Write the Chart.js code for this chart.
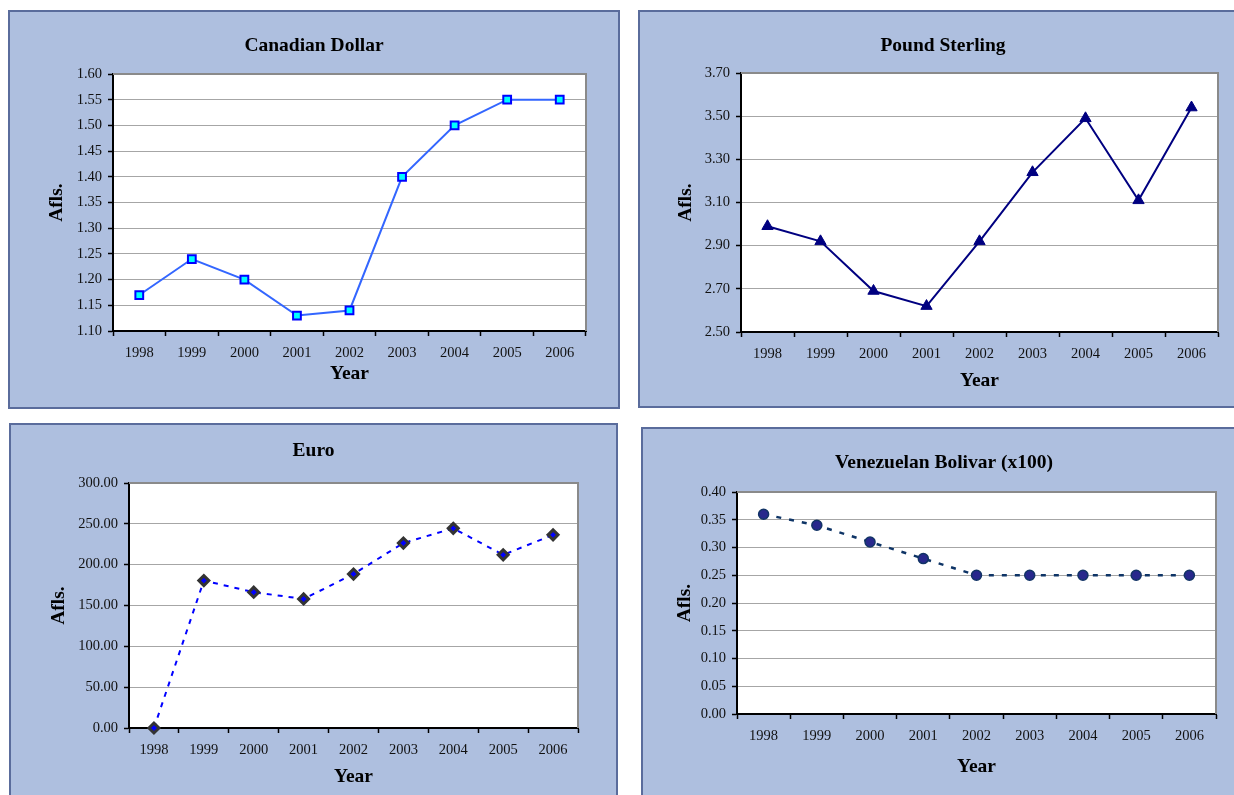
<!DOCTYPE html>
<html>
<head>
<meta charset="utf-8">
<script src="https://cdn.jsdelivr.net/npm/chart.js@4.4.1/dist/chart.umd.min.js"></script>
<style>
  html, body { margin: 0; padding: 0; background: #ffffff; width: 1234px; height: 795px; overflow: hidden; }
  .panel { position: absolute; background: #AEBFDF; border: 2px solid #5A6C9C; box-sizing: border-box; }
  .panel canvas { position: absolute; left: -2px; top: -2px; }
</style>
</head>
<body>
<div class="panel" id="p1" style="left:8px;top:10px;width:612px;height:399px;"><canvas id="c1" width="612" height="399"></canvas></div>
<div class="panel" id="p2" style="left:638px;top:10px;width:610px;height:398px;"><canvas id="c2" width="610" height="398"></canvas></div>
<div class="panel" id="p3" style="left:9px;top:423px;width:609px;height:400px;"><canvas id="c3" width="609" height="400"></canvas></div>
<div class="panel" id="p4" style="left:641px;top:427px;width:606px;height:400px;"><canvas id="c4" width="606" height="400"></canvas></div>
<script>
// ---- data ----
const years = ['1998', '1999', '2000', '2001', '2002', '2003', '2004', '2005', '2006'];
const canadianDollar = [1.17, 1.24, 1.20, 1.13, 1.14, 1.40, 1.50, 1.55, 1.55];
const poundSterling = [2.99, 2.92, 2.69, 2.62, 2.92, 3.24, 3.49, 3.11, 3.54];
const euro = [0, 180.5, 166.3, 158, 188.5, 226.5, 244.5, 212, 236.5];
const venezuelanBolivar = [0.36, 0.34, 0.31, 0.28, 0.25, 0.25, 0.25, 0.25, 0.25];
const titles = ['Canadian Dollar', 'Pound Sterling', 'Euro', 'Venezuelan Bolivar (x100)'];
const yAxisTitle = 'Afls.';
const xAxisTitle = 'Year';
const canadianTicks = { min: 1.10, max: 1.60, step: 0.05 };
const poundTicks = { min: 2.50, max: 3.70, step: 0.20 };
const euroTicks = { min: 0, max: 300, step: 50 };
const bolivarTicks = { min: 0, max: 0.40, step: 0.05 };

// ---- layout / style ----
const FONT = '"Liberation Serif", "Times New Roman", Times, serif';
const LH = 1.2, TSIZE = 19.5;
const HALF = TSIZE * LH / 2;

const plotFrame = {
  id: 'plotFrame',
  beforeDraw(chart) {
    const { ctx, chartArea: a } = chart;
    ctx.save();
    ctx.fillStyle = '#ffffff';
    ctx.fillRect(a.left, a.top, a.right - a.left, a.bottom - a.top);
    ctx.restore();
  },
  beforeDatasetsDraw(chart) {
    const { ctx, chartArea: a } = chart;
    ctx.save();
    ctx.strokeStyle = '#8A8A8A';
    ctx.lineWidth = 2;
    ctx.beginPath();
    ctx.moveTo(a.left, a.top);
    ctx.lineTo(a.right, a.top);
    ctx.lineTo(a.right, a.bottom);
    ctx.stroke();
    ctx.restore();
  }
};

function makeChart(canvasId, L) {
  const W = L.W, H = L.H;
  new Chart(document.getElementById(canvasId), {
    type: 'line',
    data: { labels: years, datasets: [L.dataset] },
    plugins: [plotFrame],
    options: {
      responsive: false,
      animation: false,
      devicePixelRatio: 1,
      layout: { padding: 0 },
      plugins: {
        legend: { display: false },
        tooltip: { enabled: false },
        title: {
          display: true,
          text: L.title,
          color: '#000',
          font: { family: FONT, size: TSIZE, weight: 'bold', lineHeight: LH },
          padding: { top: L.titleY - HALF, bottom: L.top - (L.titleY - HALF) - TSIZE * LH }
        }
      },
      scales: {
        x: {
          type: 'category',
          offset: true,
          afterFit(s) { s.height = H - L.bottom; },
          grid: { offset: true, drawOnChartArea: false, drawTicks: true, tickLength: 5, tickColor: '#000', tickWidth: 1.5 },
          border: { display: true, color: '#000', width: 2 },
          ticks: { color: '#111', padding: 8, maxRotation: 0, font: { family: FONT, size: 14.5 } },
          title: {
            display: true, text: xAxisTitle, color: '#000',
            font: { family: FONT, size: TSIZE, weight: 'bold', lineHeight: LH },
            padding: { top: 0, bottom: H - L.xTitleY - HALF }
          }
        },
        y: {
          min: L.ticks.min, max: L.ticks.max,
          afterFit(s) { s.width = L.left; },
          grid: { color: '#A6A6A6', lineWidth: 1, drawTicks: true, tickLength: 5, tickColor: '#000', tickWidth: 1.5 },
          border: { display: true, color: '#000', width: 2 },
          ticks: {
            stepSize: L.ticks.step, color: '#111', padding: 6,
            font: { family: FONT, size: 14.5 },
            callback: v => Number(v).toFixed(2)
          },
          title: {
            display: true, text: yAxisTitle, color: '#000',
            font: { family: FONT, size: TSIZE, weight: 'bold', lineHeight: LH },
            padding: { top: L.yTitleX - HALF, bottom: 0 }
          }
        },
        spacer: {
          type: 'linear', position: 'right', display: true,
          afterFit(s) { s.width = W - L.right; },
          grid: { display: false, drawOnChartArea: false },
          border: { display: false },
          ticks: { display: false },
          title: { display: false }
        }
      }
    }
  });
}

makeChart('c1', {
  W: 612, H: 399, left: 105, top: 64, right: 578, bottom: 321,
  titleY: 36, yTitleX: 49, xTitleY: 364,
  title: titles[0], ticks: canadianTicks,
  dataset: {
    data: canadianDollar, borderColor: '#3366FF', borderWidth: 2,
    pointStyle: 'rect', pointRadius: 5.5, pointBackgroundColor: '#00FFFF',
    pointBorderColor: '#0000FF', pointBorderWidth: 2, clip: false, tension: 0
  }
});

makeChart('c2', {
  W: 610, H: 398, left: 103, top: 63, right: 580, bottom: 322,
  titleY: 36, yTitleX: 48, xTitleY: 371,
  title: titles[1], ticks: poundTicks,
  dataset: {
    data: poundSterling, borderColor: '#000080', borderWidth: 2,
    pointStyle: 'triangle', pointRadius: 6.5, pointBackgroundColor: '#000080',
    pointBorderColor: '#000080', pointBorderWidth: 1, clip: false, tension: 0
  }
});

makeChart('c3', {
  W: 609, H: 400, left: 120, top: 60, right: 569, bottom: 305,
  titleY: 28, yTitleX: 50, xTitleY: 354,
  title: titles[2], ticks: euroTicks,
  dataset: {
    data: euro, borderColor: '#0000FF', borderWidth: 2, borderDash: [5, 6],
    pointStyle: 'rectRot', pointRadius: 5, pointBackgroundColor: '#0000FF',
    pointBorderColor: '#333333', pointBorderWidth: 3, clip: false, tension: 0
  }
});

makeChart('c4', {
  W: 606, H: 400, left: 96, top: 65, right: 575, bottom: 287,
  titleY: 36, yTitleX: 44, xTitleY: 340,
  title: titles[3], ticks: bolivarTicks,
  dataset: {
    data: venezuelanBolivar, borderColor: '#0E3466', borderWidth: 2.5, borderDash: [5, 8],
    pointStyle: 'circle', pointRadius: 5, pointBackgroundColor: '#28288C',
    pointBorderColor: '#123466', pointBorderWidth: 1.5, clip: false, tension: 0
  }
});
</script>
</body>
</html>
